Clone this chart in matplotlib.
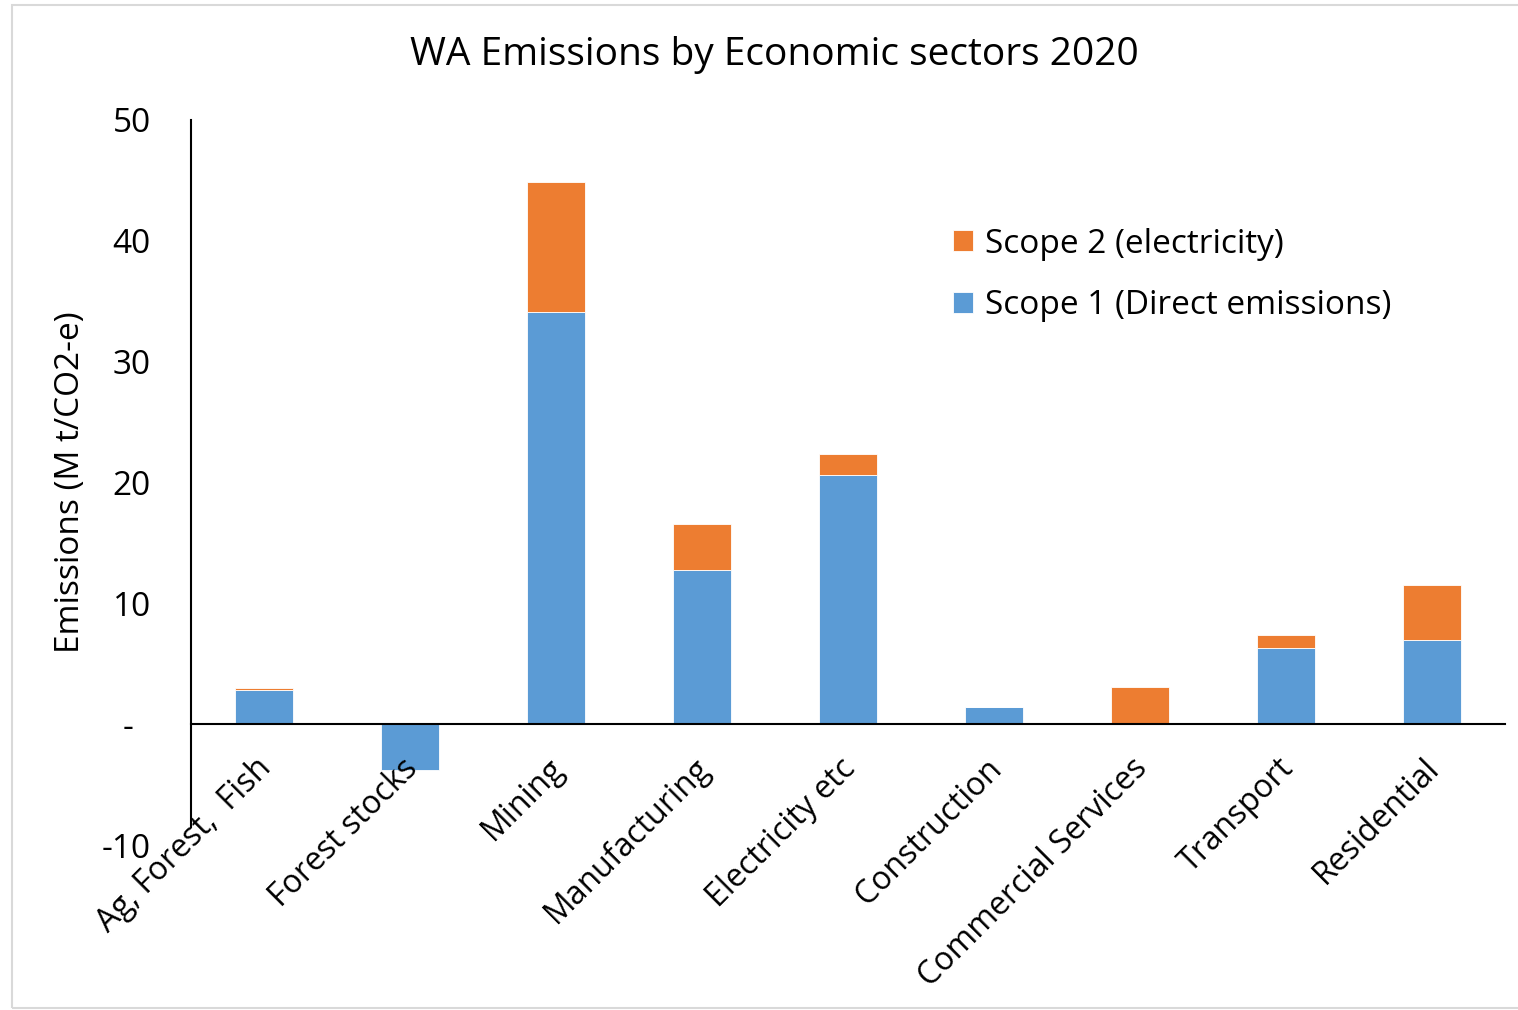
import matplotlib.pyplot as plt
from matplotlib.patches import Rectangle
from matplotlib.transforms import ScaledTranslation
import numpy as np

# Sector emissions, M t CO2-e
sectors = ['Ag, Forest,  Fish', 'Forest stocks', 'Mining', 'Manufacturing',
           'Electricity etc', 'Construction', 'Commercial Services',
           'Transport', 'Residential']
scope1 = [2.8, -3.8, 34.1, 12.8, 20.6, 1.4, 0.0, 6.3, 7.0]
scope2 = [0.2, 0.0, 10.8, 3.8, 1.75, 0.0, 3.05, 1.1, 4.5]

plt.rcParams['font.family'] = ['Open Sans', 'DejaVu Sans']

blue = '#5B9BD5'
orange = '#ED7D31'

fig = plt.figure(figsize=(15.18, 10.10), dpi=100)
ax = fig.add_axes([191 / 1518, 1 - 845 / 1010, 1314 / 1518, 725 / 1010])

x = np.arange(len(sectors))
base2 = [max(v, 0) for v in scope1]
ax.bar(x, scope1, width=0.4, color=blue, label='Scope 1 (Direct emissions)',
       edgecolor='white', linewidth=0.6, zorder=2)
ax.bar(x, scope2, width=0.4, bottom=base2, color=orange,
       label='Scope 2 (electricity)', edgecolor='white', linewidth=0.6, zorder=2)
ax.set_axisbelow(False)

ax.set_xlim(-0.5, len(sectors) - 0.5)
ax.set_ylim(-10, 50)
ax.set_yticks([-10, 0, 10, 20, 30, 40, 50])
ax.set_yticklabels(['-10', '-  ', '10', '20', '30', '40', '50'], fontsize=24)
ax.tick_params(axis='y', length=0, pad=29)

# category labels sit on the zero line
ax.spines['bottom'].set_position(('data', 0))
ax.spines['bottom'].set_linewidth(1.5)
ax.spines['left'].set_linewidth(1.5)
ax.spines['left'].set_bounds(-8.5, 50)
ax.spines['top'].set_visible(False)
ax.spines['right'].set_visible(False)
ax.set_xticks(x)
ax.set_xticklabels(sectors, rotation=45, ha='right', rotation_mode='anchor',
                   fontsize=23)
ax.tick_params(axis='x', length=0, pad=20)
for lbl in ax.get_xticklabels():
    lbl.set_transform(lbl.get_transform() + ScaledTranslation(-0.09, 0, fig.dpi_scale_trans))

ax.set_ylabel('Emissions (M t/CO2-e)', fontsize=24)
ax.yaxis.set_label_coords(-0.079, 0.5)

fig.text(0.51, 0.946, 'WA Emissions by Economic sectors 2020', fontsize=28,
         ha='center', va='center')

handles, labels = ax.get_legend_handles_labels()
ax.legend(handles[::-1], labels[::-1], loc='upper left',
          bbox_to_anchor=(0.557, 0.893), frameon=False, fontsize=24,
          handlelength=0.6, handleheight=0.6, handletextpad=0.35,
          labelspacing=0.85)

fig.patches.append(Rectangle((12 / 1518, 2 / 1010), 1, 1003 / 1010,
                             transform=fig.transFigure, fill=False,
                             edgecolor='#D9D9D9', linewidth=1.5))

fig.savefig('out.png', dpi=100)
